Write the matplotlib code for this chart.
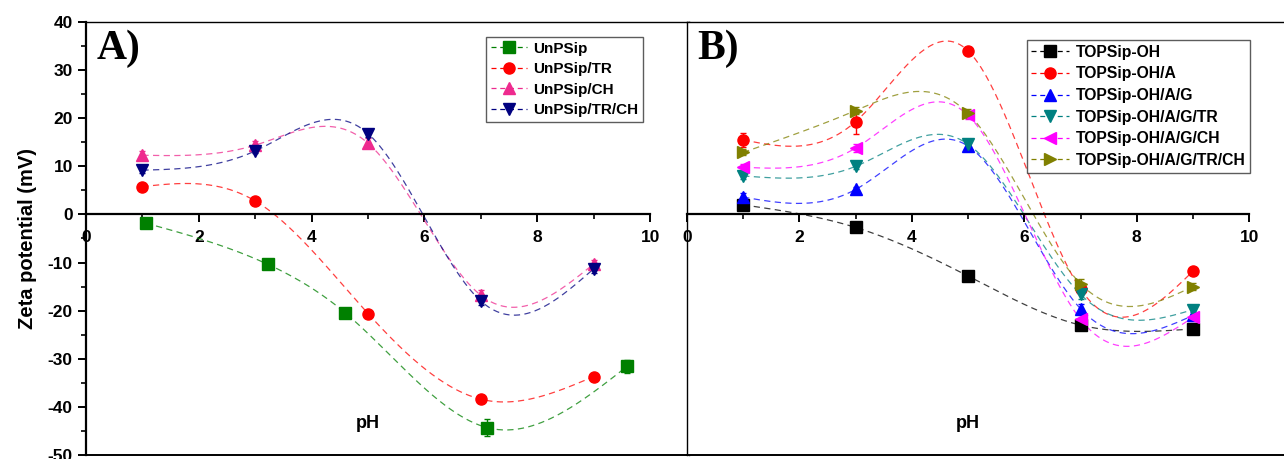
import numpy as np
import matplotlib
matplotlib.use("Agg")
import matplotlib.pyplot as plt
from matplotlib.ticker import MultipleLocator

plt.rcParams["font.family"] = ["Liberation Sans", "DejaVu Sans"]
plt.rcParams["font.weight"] = "bold"
plt.rcParams["axes.unicode_minus"] = False

# panel A
a_names = ["UnPSip", "UnPSip/TR", "UnPSip/CH", "UnPSip/TR/CH"]
a_colors = ["#008000", "#FF0000", "#EE2A8E", "#000080"]
a_markers = ["s", "o", "^", "v"]
a_x = [
    [1.06, 3.23, 4.59, 7.11, 9.59],
    [1.0, 3.0, 5.0, 7.0, 9.0],
    [1.0, 3.0, 5.0, 7.0, 9.0],
    [1.0, 3.0, 5.0, 7.0, 9.0],
]
a_y = [
    [-1.8, -10.4, -20.4, -44.3, -31.6],
    [5.8, 2.8, -20.6, -38.4, -33.7],
    [12.3, 14.4, 14.8, -16.8, -10.3],
    [9.2, 13.2, 16.8, -18.0, -11.3],
]
a_err = [
    [0.4, 0.5, 0.5, 1.8, 1.3],
    [0.4, 0.5, 0.5, 0.8, 0.5],
    [0.8, 0.8, 1.0, 1.0, 0.8],
    [0.5, 0.5, 0.8, 0.8, 0.8],
]

# panel B
b_names = ["TOPSip-OH", "TOPSip-OH/A", "TOPSip-OH/A/G", "TOPSip-OH/A/G/TR",
           "TOPSip-OH/A/G/CH", "TOPSip-OH/A/G/TR/CH"]
b_colors = ["#000000", "#FF0000", "#0000FF", "#008080", "#FF00FF", "#808000"]
b_markers = ["s", "o", "^", "v", "<", ">"]
b_x = [1.0, 3.0, 5.0, 7.0, 9.0]
b_y = [
    [2.0, -2.7, -12.8, -23.0, -23.8],
    [15.5, 19.3, 34.0, -15.5, -11.8],
    [3.6, 5.2, 14.2, -19.6, -21.0],
    [8.0, 10.0, 14.6, -16.6, -19.8],
    [9.8, 13.8, 20.6, -21.8, -21.4],
    [12.9, 21.6, 21.0, -14.4, -15.0],
]
b_err = [
    [0.5, 0.5, 0.5, 0.6, 0.6],
    [1.5, 2.5, 0.8, 1.0, 0.8],
    [0.8, 0.5, 0.5, 1.0, 0.8],
    [0.6, 0.5, 0.8, 1.0, 0.8],
    [0.6, 0.8, 0.8, 1.0, 0.8],
    [0.6, 0.8, 1.0, 1.0, 0.8],
]


def spline(x, y, n=300):
    # natural cubic spline, like the "spline" connect line in Origin
    x = np.asarray(x, float)
    y = np.asarray(y, float)
    k = len(x)
    h = np.diff(x)
    A = np.zeros((k, k))
    r = np.zeros(k)
    A[0, 0] = A[-1, -1] = 1
    for i in range(1, k - 1):
        A[i, i - 1] = h[i - 1]
        A[i, i] = 2 * (h[i - 1] + h[i])
        A[i, i + 1] = h[i]
        r[i] = 3 * ((y[i + 1] - y[i]) / h[i] - (y[i] - y[i - 1]) / h[i - 1])
    c = np.linalg.solve(A, r)
    b = (y[1:] - y[:-1]) / h - h * (2 * c[:-1] + c[1:]) / 3
    d = (c[1:] - c[:-1]) / (3 * h)
    xs = np.linspace(x[0], x[-1], n)
    idx = np.clip(np.searchsorted(x, xs) - 1, 0, k - 2)
    dx = xs - x[idx]
    return xs, y[idx] + b[idx] * dx + c[idx] * dx ** 2 + d[idx] * dx ** 3


def style_axes(ax, xmax, yticks=True):
    ax.set_xlim(0, xmax)
    ax.set_ylim(-50, 40)
    ax.spines["bottom"].set_position(("data", 0))
    ax.spines["bottom"].set_bounds(0, 10)
    ax.spines["bottom"].set_linewidth(1.6)
    ax.spines["top"].set_linewidth(1.0)
    ax.spines["right"].set_linewidth(1.0)
    ax.xaxis.set_major_locator(MultipleLocator(2))
    ax.xaxis.set_minor_locator(MultipleLocator(1))
    ax.tick_params(axis="x", which="major", direction="out", length=6, width=1.4,
                   labelsize=12.5, pad=5)
    ax.tick_params(axis="x", which="minor", direction="out", length=3.5, width=1.2)
    # box line at the bottom
    ax.plot([0, 1], [0, 0], transform=ax.transAxes, color="k", lw=1.4, clip_on=False)
    if yticks:
        ax.spines["left"].set_linewidth(1.6)
        ax.yaxis.set_major_locator(MultipleLocator(10))
        ax.yaxis.set_minor_locator(MultipleLocator(5))
        ax.tick_params(axis="y", which="major", direction="out", length=6, width=1.4,
                       labelsize=12.5)
        ax.tick_params(axis="y", which="minor", direction="out", length=3.5, width=1.2)
    else:
        ax.spines["left"].set_linewidth(1.0)
        ax.tick_params(axis="y", which="both", left=False, labelleft=False)
    for t in ax.get_xticklabels() + ax.get_yticklabels():
        t.set_fontweight("bold")


def draw_series(ax, x, y, err, color, marker, label):
    xs, ys = spline(x, y)
    ax.plot(xs, ys, color=color, lw=0.9, ls=(0, (5, 3.5)), alpha=0.75)
    ax.errorbar(x, y, yerr=err, fmt=marker, color=color, ms=8, elinewidth=1,
                capsize=2.5, zorder=3)
    return ax.plot([], [], color=color, lw=0.9, ls=(0, (4, 3)), marker=marker,
                   ms=8, label=label)[0]


fig = plt.figure(figsize=(12.84, 4.59), dpi=100)
axA = fig.add_axes([86 / 1284, 4 / 459, 603 / 1284, 433 / 459])
axB = fig.add_axes([687 / 1284, 4 / 459, 597 / 1284, 433 / 459])

style_axes(axA, 10.69)
style_axes(axB, 10.62, yticks=False)
axB.spines["right"].set_visible(False)

hA = []
for i in range(len(a_names)):
    hA.append(draw_series(axA, a_x[i], a_y[i], a_err[i], a_colors[i], a_markers[i], a_names[i]))
hB = []
for i in range(len(b_names)):
    hB.append(draw_series(axB, b_x, b_y[i], b_err[i], b_colors[i], b_markers[i], b_names[i]))

legA = axA.legend(handles=hA, loc="upper right", bbox_to_anchor=(0.924, 0.965),
                  borderaxespad=0, fancybox=False, edgecolor="#333333",
                  prop={"weight": "bold", "size": 11}, handlelength=2.4,
                  labelspacing=0.42, borderpad=0.3, handletextpad=0.4)
legA.get_frame().set_linewidth(1.0)
legB = axB.legend(handles=hB, loc="upper right", bbox_to_anchor=(0.943, 0.958),
                  borderaxespad=0, fancybox=False, edgecolor="#333333",
                  prop={"weight": "bold", "size": 11.3}, handlelength=2.4,
                  labelspacing=0.42, borderpad=0.3, handletextpad=0.4)
legB.get_frame().set_linewidth(1.0)

for ax, lab in ((axA, "A)"), (axB, "B)")):
    ax.text(0.018, 0.915, lab, transform=ax.transAxes, family="Liberation Serif",
            fontsize=30, fontweight="bold", va="baseline", ha="left")
    ax.text(5.0, -43.4, "pH", fontsize=13, fontweight="bold", ha="center", va="center")

axA.set_ylabel("Zeta potential (mV)", fontsize=14.5, fontweight="bold", labelpad=8)

fig.savefig("out.png", dpi=100)
